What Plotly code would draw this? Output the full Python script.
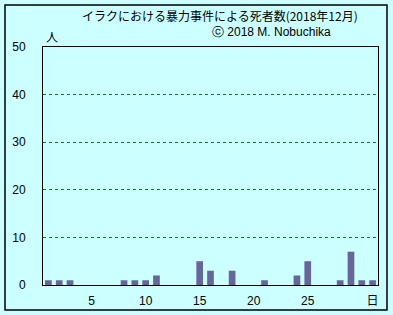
import plotly.graph_objects as go

days = list(range(1, 32))
deaths = [1, 1, 1, 0, 0, 0, 0, 1, 1, 1, 2, 0, 0, 0, 5, 3, 0, 3, 0, 0,
          1, 0, 0, 2, 5, 0, 0, 1, 7, 1, 1]
x_tickvals = [5, 10, 15, 20, 25, 31]
x_ticktext = ["5", "10", "15", "20", "25", "日"]
y_tickvals = [0, 10, 20, 30, 40, 50]

title = "イラクにおける暴力事件による死者数(2018年12月)"
credit = "ⓒ 2018 M. Nobuchika"

BG = "#CCFFFF"
W, H = 393, 315
L, R, T, B = 43, 15, 47, 30
pw, ph = W - L - R, H - T - B

def px(xp):
    return (xp - L) / pw

def py(yp):
    return (H - B - yp) / ph

fig = go.Figure()
fig.add_trace(go.Bar(x=days, y=deaths, marker=dict(color="#666699", line=dict(width=0)),
                     width=0.62))

font = dict(family="Liberation Sans, Arial, Noto Sans CJK JP", size=12, color="#000000")

fig.update_layout(
    width=W, height=H,
    margin=dict(l=L, r=R, t=T, b=B, autoexpand=False),
    paper_bgcolor=BG, plot_bgcolor=BG,
    showlegend=False,
    font=font,
    xaxis=dict(range=[0.5, 31.5], tickmode="array", tickvals=x_tickvals, ticktext=x_ticktext,
               showgrid=False, zeroline=False, showline=True, linecolor="black", linewidth=1,
               mirror=True, ticks="", ticklabelstandoff=5, tickfont=font, automargin=False),
    yaxis=dict(range=[0, 50], tickmode="array", tickvals=y_tickvals,
               showgrid=True, gridcolor="#008000", griddash="3px,3px", gridwidth=1,
               zeroline=False, showline=True, linecolor="black", linewidth=1,
               mirror=True, ticks="", ticklabelstandoff=14, tickfont=font, automargin=False),
    shapes=[dict(type="rect", xref="paper", yref="paper",
                 x0=px(5), x1=px(387), y0=py(310), y1=py(5),
                 line=dict(color="black", width=1.5), fillcolor="rgba(0,0,0,0)", layer="below")],
    annotations=[
        dict(text=title, xref="paper", yref="paper", x=px(220), y=py(15), showarrow=False,
             xanchor="center", yanchor="middle",
             font=dict(family="Noto Sans CJK JP", size=12, color="black")),
        dict(text=credit, xref="paper", yref="paper", x=px(210), y=py(32), showarrow=False,
             xanchor="left", yanchor="middle",
             font=dict(family="Liberation Sans, Arial", size=12, color="black")),
        dict(text="人", xref="paper", yref="paper", x=px(52), y=py(37), showarrow=False,
             xanchor="center", yanchor="middle",
             font=dict(family="Noto Sans CJK JP", size=12, color="black")),
    ],
)

fig.write_html("out.html")
